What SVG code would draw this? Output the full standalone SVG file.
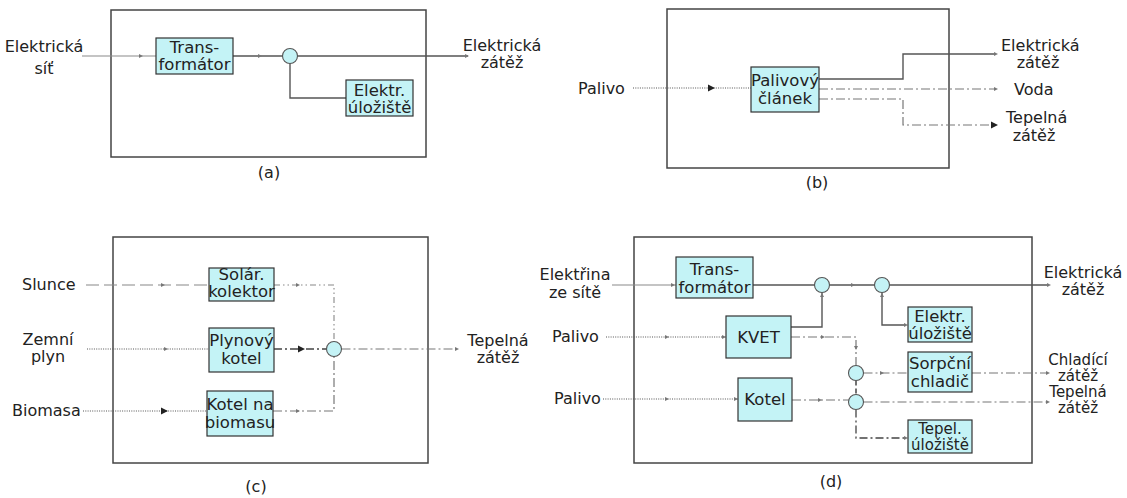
<svg xmlns="http://www.w3.org/2000/svg" width="1127" height="498" viewBox="0 0 1127 498">
  <style>
    text { font-family: "DejaVu Sans", "Liberation Sans", sans-serif; font-size: 16px; fill: #222; }
    .c { text-anchor: middle; }
    .bt { font-size: 16.5px; }
    .sm { font-size: 15px; }
    .bx { fill: #c4f3f6; stroke: #333; stroke-width: 1.2; }
    .frame { fill: none; stroke: #444; stroke-width: 1.5; }
    .node { fill: #c4f3f6; stroke: #555; stroke-width: 1.1; }
    .solid { fill: none; stroke: #555; stroke-width: 1.4; }
    .thin { fill: none; stroke: #8a8a8a; stroke-width: 1.1; }
    .dot { fill: none; stroke: #555; stroke-width: 1.1; stroke-dasharray: 1 1.3; }
    .dd { fill: none; stroke: #777; stroke-width: 1.2; stroke-dasharray: 9 3 2 3; }
    .ddk { fill: none; stroke: #444; stroke-width: 1.3; stroke-dasharray: 8 3 2 3; }
    .ldash { fill: none; stroke: #888; stroke-width: 1.2; stroke-dasharray: 13 5; }
    .ddd { fill: none; stroke: #888; stroke-width: 1.1; stroke-dasharray: 6 3 1.5 3 1.5 3; }
    .vd { fill: none; stroke: #444; stroke-width: 1.5; stroke-dasharray: 5 3; }
    .ah { fill: #777; }
    .ahk { fill: #222; }
  </style>
  <defs>
    <path id="a" d="M-4,-2 L0,0 L-4,2 z"/>
    <path id="ab" d="M-7,-3.5 L0,0 L-7,3.5 z"/>
  </defs>

  <!-- frames and captions -->
  <g id="frames">
    <rect class="frame" x="111" y="10" width="315" height="147"/>
    <rect class="frame" x="667" y="9" width="282" height="159"/>
    <rect class="frame" x="113" y="237" width="315" height="226"/>
    <rect class="frame" x="634" y="237" width="398" height="226"/>
    <text class="c" x="269" y="178">(a)</text>
    <text class="c" x="817" y="188">(b)</text>
    <text class="c" x="256" y="492">(c)</text>
    <text class="c" x="831" y="487">(d)</text>
  </g>

  <g id="connectors">
    <!-- (a) -->
    <path class="thin" d="M82,56 H156"/>
    <use href="#a" class="ah" transform="translate(143,56)"/>
    <path class="solid" d="M233,56 H282.5"/>
    <use href="#a" class="ah" transform="translate(262,56)"/>
    <path class="solid" d="M297.5,56 H468"/>
    <use href="#a" class="ah" transform="translate(469,56)"/>
    <path class="solid" d="M290,63.5 V98 H346"/>

    <!-- (b) -->
    <path class="dot" d="M633,88 H751"/>
    <use href="#ab" class="ahk" transform="translate(715,88)"/>
    <path class="solid" d="M819,79 H903 V54 H996"/>
    <use href="#a" class="ah" transform="translate(998,54)"/>
    <path class="dd" d="M819,89 H996"/>
    <use href="#a" class="ah" transform="translate(998,89)"/>
    <path class="dd" d="M819,99 H903 V125 H992"/>
    <use href="#ab" class="ahk" transform="translate(998,125)"/>

    <!-- (c) -->
    <path class="ldash" d="M86,285 H209"/>
    <use href="#a" class="ah" transform="translate(165,285)"/>
    <path class="ddd" d="M274,285 H334 V341"/>
    <use href="#a" class="ah" transform="translate(300,285)"/>
    <path class="dot" d="M87,349 H209"/>
    <use href="#a" class="ah" transform="translate(168,349)"/>
    <path class="ddk" d="M274,349 H326.5"/>
    <use href="#ab" class="ahk" transform="translate(305,349)"/>
    <path class="dd" d="M341.5,349 H456"/>
    <use href="#a" class="ah" transform="translate(459,349)"/>
    <path class="dot" d="M83,411 H207"/>
    <use href="#ab" class="ahk" transform="translate(168,411)"/>
    <path class="dd" d="M273,411 H334 V356.5"/>
    <use href="#a" class="ah" transform="translate(300,411)"/>

    <!-- (d) -->
    <path class="thin" d="M612,285 H676"/>
    <use href="#a" class="ah" transform="translate(675,285)"/>
    <path class="solid" d="M753,285 H814.5"/>
    <path class="solid" d="M829.5,285 H874.5"/>
    <use href="#a" class="ah" transform="translate(855,285)"/>
    <path class="solid" d="M889.5,285 H1049"/>
    <use href="#a" class="ah" transform="translate(1051,285)"/>
    <path class="solid" d="M791,327 H822 V293"/>
    <use href="#a" class="ah" transform="translate(822,293) rotate(-90)"/>
    <path class="solid" d="M882,293 V325 H906"/>
    <use href="#a" class="ah" transform="translate(882,293) rotate(-90)"/>
    <use href="#a" class="ah" transform="translate(908,325)"/>
    <path class="dot" d="M606,337 H726"/>
    <use href="#a" class="ah" transform="translate(669,337)"/>
    <use href="#a" class="ah" transform="translate(726,337)"/>
    <path class="dd" d="M791,337 H856 V365.5"/>
    <use href="#a" class="ah" transform="translate(825,337)"/>
    <use href="#a" class="ah" transform="translate(856,350) rotate(90)"/>
    <path class="dd" d="M863.5,373 H908"/>
    <use href="#a" class="ah" transform="translate(884,373)"/>
    <path class="dd" d="M972,373 H1048"/>
    <use href="#a" class="ah" transform="translate(1050,373)"/>
    <path class="vd" d="M856,380.5 V394.5"/>
    <path class="dot" d="M603,399 H738"/>
    <use href="#a" class="ah" transform="translate(669,399)"/>
    <use href="#a" class="ah" transform="translate(738,399)"/>
    <path class="dd" d="M792,400 H848.5"/>
    <use href="#a" class="ah" transform="translate(822,400)"/>
    <path class="dd" d="M863.5,402 H1048"/>
    <use href="#a" class="ah" transform="translate(1050,402)"/>
    <path class="ddk" d="M856,409.5 V438 H906"/>
    <use href="#a" class="ah" transform="translate(908,438)"/>
  </g>

  <!-- (a) grid supply -->
  <g id="a-labels">
    <text class="c" x="44" y="52">Elektrická</text>
    <text class="c" x="44" y="74">síť</text>
    <text class="c" x="502" y="51">Elektrická</text>
    <text class="c" x="502" y="68">zátěž</text>
  </g>
  <g id="a-transformator">
    <rect class="bx" x="156" y="38" width="77" height="36"/>
    <text class="c bt" x="194.5" y="53">Trans-</text>
    <text class="c bt" x="194.5" y="70">formátor</text>
  </g>
  <g id="a-junction"><circle class="node" cx="290" cy="56" r="7.5"/></g>
  <g id="a-uloziste">
    <rect class="bx" x="346" y="80" width="67" height="36"/>
    <text class="c bt" x="379.5" y="96">Elektr.</text>
    <text class="c bt" x="379.5" y="113">úložiště</text>
  </g>

  <!-- (b) fuel cell -->
  <g id="b-labels">
    <text x="578" y="94">Palivo</text>
    <text x="1001" y="51">Elektrická</text>
    <text class="c" x="1038" y="68">zátěž</text>
    <text x="1014" y="95">Voda</text>
    <text x="1006" y="123">Tepelná</text>
    <text class="c" x="1034" y="141">zátěž</text>
  </g>
  <g id="b-clanek">
    <rect class="bx" x="751" y="67" width="68" height="45"/>
    <text class="c bt" x="785" y="86">Palivový</text>
    <text class="c bt" x="785" y="104">článek</text>
  </g>

  <!-- (c) heat sources -->
  <g id="c-labels">
    <text x="22" y="290">Slunce</text>
    <text class="c" x="48" y="345">Zemní</text>
    <text class="c" x="48" y="362">plyn</text>
    <text x="12" y="416">Biomasa</text>
    <text class="c" x="498" y="346">Tepelná</text>
    <text class="c" x="498" y="363">zátěž</text>
  </g>
  <g id="c-solar">
    <rect class="bx" x="209" y="268" width="65" height="33"/>
    <text class="c bt" x="241.5" y="280">Solár.</text>
    <text class="c bt" x="241.5" y="297">kolektor</text>
  </g>
  <g id="c-plyn">
    <rect class="bx" x="209" y="328" width="65" height="44"/>
    <text class="c bt" x="241.5" y="346">Plynový</text>
    <text class="c bt" x="241.5" y="364">kotel</text>
  </g>
  <g id="c-biomasa">
    <rect class="bx" x="207" y="391" width="66" height="45"/>
    <text class="c bt" x="240" y="410">Kotel na</text>
    <text class="c bt" x="240" y="428">biomasu</text>
  </g>
  <g id="c-junction"><circle class="node" cx="334" cy="349" r="7.5"/></g>

  <!-- (d) combined system -->
  <g id="d-labels">
    <text class="c" x="575" y="280">Elektřina</text>
    <text class="c" x="575" y="298">ze sítě</text>
    <text x="552" y="342">Palivo</text>
    <text x="554" y="404">Palivo</text>
    <text class="c" x="1083" y="278">Elektrická</text>
    <text class="c" x="1083" y="295">zátěž</text>
    <text class="c sm" x="1078" y="365">Chladící</text>
    <text class="c sm" x="1078" y="381">zátěž</text>
    <text class="c sm" x="1078" y="397">Tepelná</text>
    <text class="c sm" x="1078" y="413">zátěž</text>
  </g>
  <g id="d-transformator">
    <rect class="bx" x="676" y="257" width="77" height="41"/>
    <text class="c bt" x="714.5" y="275">Trans-</text>
    <text class="c bt" x="714.5" y="293">formátor</text>
  </g>
  <g id="d-kvet">
    <rect class="bx" x="726" y="316" width="65" height="42"/>
    <text class="c bt" x="758.5" y="343">KVET</text>
  </g>
  <g id="d-kotel">
    <rect class="bx" x="738" y="378" width="54" height="43"/>
    <text class="c bt" x="765" y="405">Kotel</text>
  </g>
  <g id="d-el-uloziste">
    <rect class="bx" x="908" y="307" width="64" height="35"/>
    <text class="c bt" x="940" y="322">Elektr.</text>
    <text class="c bt" x="940" y="339">úložiště</text>
  </g>
  <g id="d-chladic">
    <rect class="bx" x="908" y="352" width="64" height="40"/>
    <text class="c bt" x="940" y="369">Sorpční</text>
    <text class="c bt" x="940" y="387">chladič</text>
  </g>
  <g id="d-tep-uloziste">
    <rect class="bx" x="908" y="420" width="64" height="33"/>
    <text class="c sm" x="940" y="434">Tepel.</text>
    <text class="c sm" x="940" y="450">úložiště</text>
  </g>
  <g id="d-junctions">
    <circle class="node" cx="822" cy="285" r="7.5"/>
    <circle class="node" cx="882" cy="285" r="7.5"/>
    <circle class="node" cx="856" cy="373" r="7.5"/>
    <circle class="node" cx="856" cy="402" r="7.5"/>
  </g>
</svg>
